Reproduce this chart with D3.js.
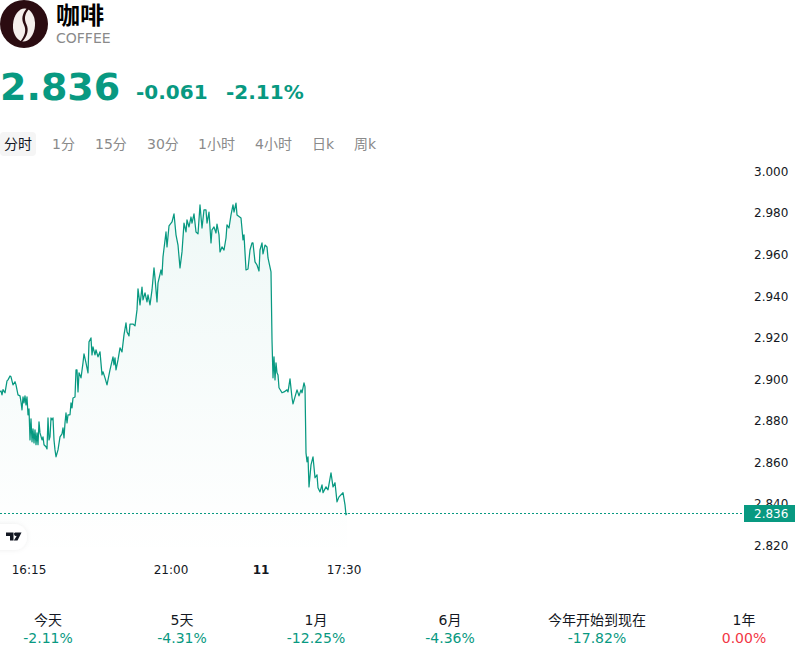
<!DOCTYPE html>
<html><head><meta charset="utf-8">
<script src="https://cdnjs.cloudflare.com/ajax/libs/d3/7.8.5/d3.min.js"></script>
<style>html,body{margin:0;padding:0;background:#fff}svg{display:block}
text{font-family:"DejaVu Sans","Noto Sans CJK SC",sans-serif}</style></head><body>
<svg id="c" width="800" height="658"></svg>
<script>
const bars=[0,1,2,3,5,7,8,10,11,13,15,16,18,20,21,22,23,24,25,26,27,28,29,30,31,32,33,34,35,36,37,38,39,40,42,43,44,46,47,48,49,50,51,52,53,54,55,56,58,60,62,63,64,65,66,67,68,70,71,72,73,75,76,77,78,79,81,83,84,86,88,89,91,92,93,95,96,98,100,102,103,105,107,109,110,113,114,115,116,118,120,122,124,126,127,129,130,133,135,137,138,140,142,143,145,147,148,150,152,154,155,157,158,161,162,163,166,167,169,172,174,176,178,180,182,184,186,187,189,191,192,194,196,198,200,202,204,206,207,209,211,212,214,216,217,219,220,222,224,226,227,229,231,233,234,236,237,241,243,244,246,248,250,252,253,255,257,259,260,262,263,265,267,268,271,272,273,274,275,276,277,278,279,282,284,287,288,290,292,293,295,297,299,301,302,304,305,306,307,308,309,311,313,315,317,318,320,322,323,326,328,331,333,335,337,339,343,345,346,347];
const prices=[2.894,2.8944,2.8925,2.895,2.8935,2.8992,2.8997,2.9016,2.9012,2.8973,2.8988,2.8973,2.8925,2.892,2.8891,2.8853,2.8915,2.8886,2.892,2.8877,2.8915,2.8829,2.8858,2.8708,2.881,2.8699,2.8761,2.8694,2.8757,2.8685,2.8742,2.8685,2.8795,2.8742,2.8708,2.8723,2.8685,2.8675,2.8665,2.8814,2.8708,2.8723,2.8814,2.8805,2.8814,2.8708,2.866,2.8627,2.866,2.8723,2.8737,2.8766,2.8718,2.879,2.8838,2.879,2.8829,2.8829,2.8886,2.8862,2.891,2.8915,2.9045,2.9045,2.8939,2.9031,2.9007,2.9079,2.9122,2.9079,2.9031,2.918,2.9199,2.9117,2.9156,2.9117,2.9141,2.9108,2.9132,2.9021,2.9036,2.9007,2.8973,2.9021,2.9045,2.9108,2.9069,2.9103,2.9045,2.9093,2.9151,2.9132,2.9214,2.9271,2.9228,2.9209,2.9266,2.9266,2.9257,2.9334,2.9435,2.9358,2.9444,2.9382,2.9416,2.9372,2.9406,2.9358,2.943,2.9536,2.9488,2.9372,2.9464,2.9526,2.9502,2.9589,2.9709,2.9637,2.9738,2.9757,2.9796,2.9695,2.9646,2.9536,2.9613,2.9752,2.9709,2.9767,2.9733,2.9781,2.9752,2.9796,2.9709,2.97,2.9839,2.9728,2.9815,2.9815,2.9752,2.9805,2.9656,2.9719,2.9733,2.9704,2.9747,2.9695,2.9613,2.9637,2.9622,2.968,2.9743,2.9728,2.9791,2.9839,2.9805,2.9848,2.9791,2.9776,2.9671,2.9695,2.9526,2.9531,2.9622,2.9656,2.9656,2.9565,2.955,2.9521,2.9622,2.9656,2.9603,2.9646,2.9637,2.9584,2.9517,2.919,2.9007,2.9108,2.8997,2.9079,2.9031,2.9021,2.8959,2.8935,2.8939,2.8949,2.8939,2.9002,2.8911,2.8882,2.8915,2.8949,2.892,2.8949,2.8935,2.8983,2.8963,2.8646,2.8603,2.8627,2.8482,2.8588,2.8627,2.8526,2.854,2.8478,2.8458,2.8492,2.8454,2.8482,2.8468,2.855,2.8482,2.8502,2.841,2.8434,2.8454,2.8396,2.8348,2.8355];
const priceTicks=[3.0,2.98,2.96,2.94,2.92,2.9,2.88,2.86,2.84,2.82];
const timeTickBars=[29,171,261,344];
const timeTickLabels=["16:15","21:00","11","17:30"];
const lastPrice=2.8355,lastLabel="2.836",changeLabel="-0.061",pctLabel="-2.11%";
const intervals=["分时","1分","15分","30分","1小时","4小时","日k","周k"];
const intervalX=[4,52,95,147,198,255,312,354];
const periods=["今天","5天","1月","6月","今年开始到现在","1年"];
const periodValues=["-2.11%","-4.31%","-12.25%","-4.36%","-17.82%","0.00%"];
const periodX=[48,182,316,450,597,744];
const GREEN="#089981",RED="#f23645",INK="#131722",GREY="#8a8a8a";

const svg=d3.select("#c");
const defs=svg.append("defs");
const x=d3.scaleLinear().domain([0,800]).range([0,800]);
const y=d3.scaleLinear().domain([2.82,3.0]).range([545.5,171.5]);
const g=defs.append("linearGradient").attr("id","af").attr("gradientUnits","userSpaceOnUse").attr("x1",0).attr("x2",0).attr("y1",203).attr("y2",558);
g.append("stop").attr("offset",0).attr("stop-color",GREEN).attr("stop-opacity",.065);
g.append("stop").attr("offset",1).attr("stop-color",GREEN).attr("stop-opacity",0);
const f=defs.append("filter").attr("id","sh").attr("x","-50%").attr("y","-50%").attr("width","200%").attr("height","200%");
f.append("feDropShadow").attr("dx",0).attr("dy",0).attr("stdDeviation",2.5).attr("flood-color","#000").attr("flood-opacity",.07);

// header
svg.append("circle").attr("cx",24).attr("cy",24).attr("r",24).attr("fill","#2b0c11");
svg.append("ellipse").attr("cx",24).attr("cy",25).attr("rx",11).attr("ry",16.5).attr("fill","#f5efec").attr("transform","rotate(4 24 25)");
svg.append("path").attr("d","M27 8C22 14 21 19 24 25C26.500 30 25 36 20 42L22 42C27.500 36 29 30 26.500 24.500C24 19 24.500 14 29 9Z").attr("fill","#2b0c11");
svg.append("text").attr("x",56).attr("y",24).attr("font-size",24).attr("font-weight",700).attr("fill","#000").text("咖啡");
svg.append("text").attr("x",56).attr("y",43).attr("font-size",14).attr("fill",GREY).text("COFFEE");
svg.append("text").attr("x",0).attr("y",100).attr("font-size",38).attr("font-weight",700).attr("fill",GREEN).text(lastLabel);
svg.append("text").attr("x",136).attr("y",99).attr("font-size",20).attr("font-weight",700).attr("fill",GREEN).text(changeLabel);
svg.append("text").attr("x",226).attr("y",99).attr("font-size",20).attr("font-weight",700).attr("fill",GREEN).text(pctLabel);
svg.append("rect").attr("x",0).attr("y",132).attr("width",36).attr("height",24).attr("rx",4).attr("fill","#f5f5f5");
svg.selectAll(".iv").data(intervals).join("text").attr("class","iv").attr("x",(d,i)=>intervalX[i]).attr("y",149).attr("font-size",14)
  .attr("fill",(d,i)=>i===0?INK:GREY).text(d=>d);

// axes
const ya=d3.axisRight(y).tickValues(priceTicks).tickFormat(d3.format(".3f")).tickSize(0).tickPadding(0);
const yg=svg.append("g").attr("transform","translate(754,0)").call(ya);
yg.select(".domain").remove();
yg.selectAll("text").attr("font-size",12).attr("fill",INK).style("font-family",'"DejaVu Sans",sans-serif');
const xa=d3.axisBottom(x).tickValues(timeTickBars).tickFormat((d,i)=>timeTickLabels[i]).tickSize(0).tickPadding(0);
const xg=svg.append("g").attr("transform","translate(-0.5,565)").call(xa);
xg.select(".domain").remove();
xg.selectAll("text").attr("font-size",12).attr("fill",INK).style("font-family",'"DejaVu Sans",sans-serif')
  .attr("font-weight",(d,i)=>timeTickLabels[i]==="11"?700:400);

// series
const pts=bars.map((b,i)=>[b,prices[i]]);
svg.append("path").datum(pts).attr("fill","url(#af)").attr("d",d3.area().x(d=>x(d[0])).y0(558).y1(d=>y(d[1])));
svg.append("path").datum(pts).attr("fill","none").attr("stroke",GREEN).attr("stroke-width",1.25).attr("stroke-linejoin","round")
  .attr("d",d3.line().x(d=>x(d[0])).y(d=>y(d[1])));

// last price
const ly=Math.round(y(lastPrice))+.5;
svg.append("line").attr("x1",0).attr("x2",744).attr("y1",ly).attr("y2",ly).attr("stroke",GREEN).attr("stroke-width",1).attr("stroke-dasharray","2 2");
svg.append("rect").attr("x",744).attr("y",ly-8.5).attr("width",51).attr("height",17).attr("fill",GREEN);
svg.append("text").attr("x",754).attr("y",ly+4.5).attr("font-size",12).attr("fill","#fff").text(lastLabel);

// tv badge
svg.append("path").attr("d","M-10 524H14A13 13 0 0 1 14 550H-10Z").attr("fill","#fff").attr("filter","url(#sh)");
svg.append("path").attr("d","M6 532.500H13.500V540.500H10V536H6ZM15 532.500H21.500L17.500 540.500H13.800L16.800 535.800A1.700 1.700 0 0 1 15 532.500Z").attr("fill","#131722");

// periods
svg.selectAll(".pl").data(periods).join("text").attr("class","pl").attr("x",(d,i)=>periodX[i]).attr("y",625).attr("text-anchor","middle").attr("font-size",14).attr("fill",INK).text(d=>d);
svg.selectAll(".pv").data(periodValues).join("text").attr("class","pv").attr("x",(d,i)=>periodX[i]).attr("y",643).attr("text-anchor","middle").attr("font-size",14)
  .attr("fill",d=>d.startsWith("-")?GREEN:RED).text(d=>d);
</script></body></html>
